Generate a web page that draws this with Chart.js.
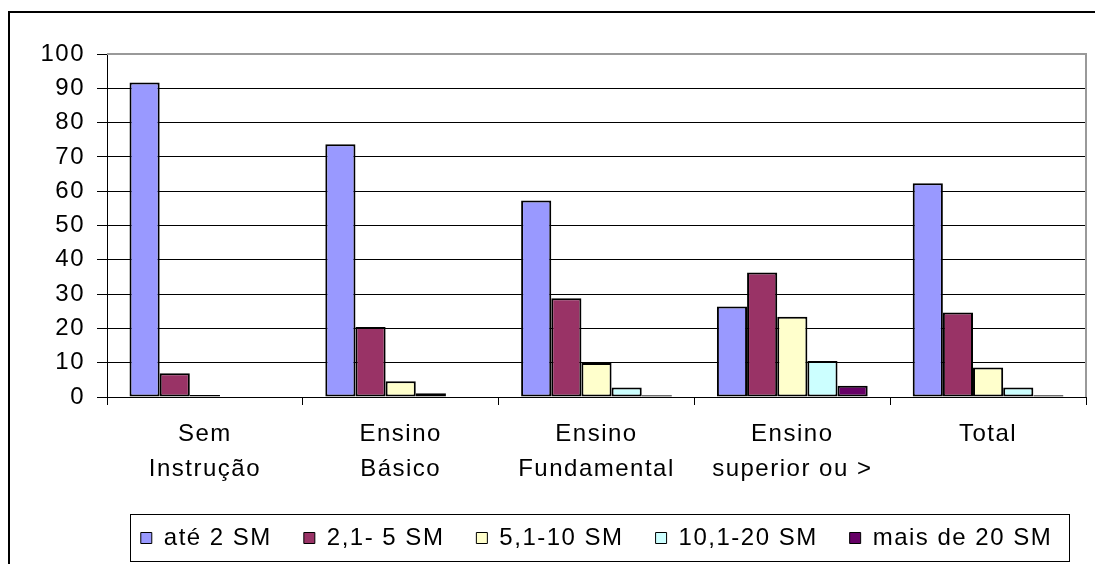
<!DOCTYPE html>
<html>
<head>
<meta charset="utf-8">
<script src="https://cdn.jsdelivr.net/npm/chart.js@4/dist/chart.umd.min.js"></script>
<style>
  html, body { margin: 0; padding: 0; background: #fff; overflow: hidden; }
  #frame { position: absolute; left: 8px; top: 11px; width: 1300px; height: 800px;
           border: 2px solid #000; box-sizing: border-box; }
  #wrap { position: absolute; left: 0; top: 0; width: 1095px; height: 564px; }
</style>
</head>
<body>
<div id="frame"></div>
<div id="wrap"><canvas id="chart" width="1095" height="564"></canvas></div>
<script>
// Renda familiar (salários mínimos) por nível de instrução, em %
const categories = [['Sem', 'Instrução'], ['Ensino', 'Básico'], ['Ensino', 'Fundamental'], ['Ensino', 'superior ou >'], 'Total'];
const seriesNames = ['até 2 SM', '2,1- 5 SM', '5,1-10 SM', '10,1-20 SM', 'mais de 20 SM'];
const ate2SM    = [91.7, 73.7, 57.3, 26.4, 62.3];
const de2a5SM   = [6.9, 20.4, 28.8, 36.3, 24.6];
const de5a10SM  = [0.6, 4.6, 9.9, 23.4, 8.6];
const de10a20SM = [0, 1.1, 2.8, 10.5, 2.8];
const mais20SM  = [0, 0, 0.5, 3.3, 0.5];
const yMin = 0, yMax = 100, yStep = 10;

const seriesValues = [ate2SM, de2a5SM, de5a10SM, de10a20SM, mais20SM];
const seriesColors = ['#9999FF', '#993366', '#FFFFCC', '#CCFFFF', '#660066'];

const FONT = { family: '"Liberation Sans", Arial, sans-serif', size: 24 };
const SPACING = '1.5px';
const LEGEND_PAD = 32;

// wide letter spacing on all canvas text
const letterSpacing = {
  id: 'letterSpacing',
  beforeUpdate(chart) { chart.ctx.letterSpacing = SPACING; },
  beforeDraw(chart) { chart.ctx.letterSpacing = SPACING; }
};

// grey plot-area border on top and right
const plotBorder = {
  id: 'plotBorder',
  beforeDatasetsDraw(chart) {
    const { ctx, chartArea: a } = chart;
    ctx.save();
    ctx.strokeStyle = '#999999';
    ctx.lineWidth = 2;
    ctx.beginPath();
    ctx.moveTo(a.left, a.top);
    ctx.lineTo(a.right, a.top);
    ctx.lineTo(a.right, a.bottom);
    ctx.stroke();
    ctx.restore();
  }
};

// boxed legend
const legendFrame = {
  id: 'legendFrame',
  afterDraw(chart) {
    const hb = chart.legend.legendHitBoxes;
    if (!hb || !hb.length) return;
    const l = Math.min(...hb.map(h => h.left));
    const r = Math.max(...hb.map(h => h.left + h.width));
    const cy = hb[0].top + hb[0].height / 2;
    const ctx = chart.ctx;
    ctx.save();
    ctx.strokeStyle = '#000';
    ctx.lineWidth = 1;
    ctx.strokeRect(Math.round(l - 11) + 0.5, Math.round(cy - 24) + 0.5, Math.round(r - l + 28), 47);
    ctx.restore();
  }
};

new Chart(document.getElementById('chart'), {
  type: 'bar',
  data: {
    labels: categories,
    datasets: seriesNames.map((name, i) => ({
      label: name,
      data: seriesValues[i],
      backgroundColor: seriesColors[i],
      borderColor: '#000000',
      borderWidth: 2,
      borderSkipped: false,
      categoryPercentage: 0.77,
      barPercentage: 1
    }))
  },
  options: {
    responsive: false,
    animation: false,
    devicePixelRatio: 1,
    layout: { padding: { top: 54, right: 9, left: 0, bottom: 4 } },
    plugins: {
      tooltip: { enabled: false },
      legend: {
        position: 'bottom',
        fullSize: false,
        labels: {
          color: '#000',
          font: FONT,
          boxWidth: 11,
          boxHeight: 11,
          padding: LEGEND_PAD,
          generateLabels(chart) {
            return chart.data.datasets.map((d, i) => ({
              text: d.label,
              fillStyle: d.backgroundColor,
              strokeStyle: '#000',
              lineWidth: 1,
              datasetIndex: i,
              hidden: false
            }));
          }
        }
      }
    },
    scales: {
      x: {
        grid: { display: true, drawOnChartArea: false, drawTicks: true, tickLength: 8, color: '#000', offset: true },
        border: { display: true, color: '#000', width: 1 },
        ticks: { color: '#000', font: { ...FONT, lineHeight: 1.46 }, padding: 12, maxRotation: 0, autoSkip: false },
        afterFit(scale) { scale.height = 129 - LEGEND_PAD; }
      },
      y: {
        min: yMin,
        max: yMax,
        grid: { color: '#000', lineWidth: 1, tickLength: 10, tickColor: '#000' },
        border: { display: true, color: '#000', width: 1 },
        ticks: { stepSize: yStep, color: '#000', font: FONT, padding: 12, autoSkip: false },
        afterFit(scale) { scale.width = 107; }
      }
    }
  },
  plugins: [letterSpacing, plotBorder, legendFrame]
});
</script>
</body>
</html>
